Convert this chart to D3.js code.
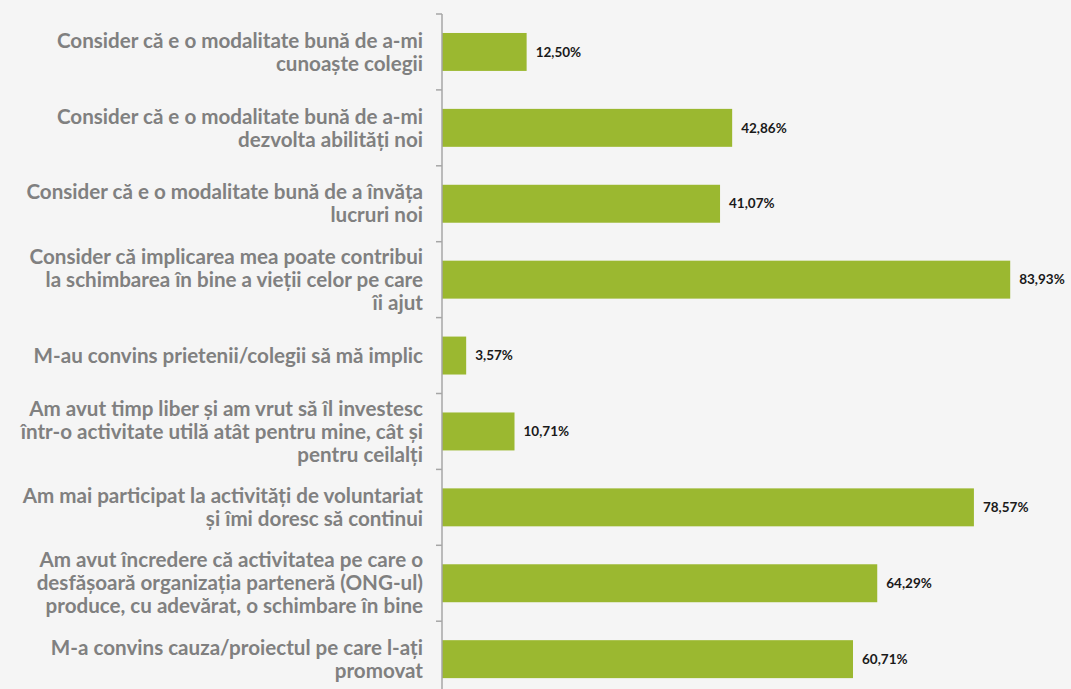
<!DOCTYPE html>
<html><head><meta charset="utf-8">
<script src="https://cdn.jsdelivr.net/npm/d3@7"></script>
<style>body{margin:0;background:#f5f5f5;}svg{display:block;}</style>
</head><body>
<svg id="c" width="1071" height="689"></svg>
<script>
const categories = [
  ["Consider că e o modalitate bună de a-mi","cunoaște colegii"],
  ["Consider că e o modalitate bună de a-mi","dezvolta abilități noi"],
  ["Consider că e o modalitate bună de a învăța","lucruri noi"],
  ["Consider că implicarea mea poate contribui","la schimbarea în bine a vieții celor pe care","îi ajut"],
  ["M-au convins prietenii/colegii să mă implic"],
  ["Am avut timp liber și am vrut să îl investesc","într-o activitate utilă atât pentru mine, cât și","pentru ceilalți"],
  ["Am mai participat la activități de voluntariat","și îmi doresc să continui"],
  ["Am avut încredere că activitatea pe care o","desfășoară organizația parteneră (ONG-ul)","produce, cu adevărat, o schimbare în bine"],
  ["M-a convins cauza/proiectul pe care l-ați","promovat"]
];
const values = [12.50, 42.86, 41.07, 83.93, 3.57, 10.71, 78.57, 64.29, 60.71];
const valueLabels = ["12,50%","42,86%","41,07%","83,93%","3,57%","10,71%","78,57%","64,29%","60,71%"];

const svg = d3.select("#c");
const x0 = 442, plotTop = 14, step = 75.9;
const ids = categories.map((d,i)=>i);
const y = d3.scaleBand().domain(ids).range([plotTop, plotTop + step*ids.length]).paddingInner(0.5).paddingOuter(0.25);
const x = d3.scaleLinear().domain([0,100]).range([x0, x0 + 677]);

svg.append("g").selectAll("rect").data(values).join("rect")
  .attr("x", x(0)).attr("y",(d,i)=>y(i)).attr("width",d=>x(d)-x(0)).attr("height",y.bandwidth())
  .attr("fill","#9bb830");

svg.append("g").selectAll("text").data(values).join("text")
  .attr("x",d=>x(d)+9).attr("y",(d,i)=>y(i)+y.bandwidth()/2).attr("dy","0.35em")
  .attr("font-family","Lato, 'Noto Sans', sans-serif").attr("font-weight","bold").attr("font-size",13.5)
  .attr("fill","#1a1a1a").text((d,i)=>valueLabels[i]);

const g = svg.append("g");
g.append("line").attr("x1",x0).attr("x2",x0).attr("y1",plotTop).attr("y2",plotTop+step*ids.length)
  .attr("stroke","#a6a6a6").attr("stroke-width",1.5);
const bounds = d3.range(ids.length+1).map(i=>plotTop+step*i);
g.selectAll("line.t").data(bounds).join("line").attr("class","t")
  .attr("x1",x0-6).attr("x2",x0).attr("y1",d=>d).attr("y2",d=>d)
  .attr("stroke","#a6a6a6").attr("stroke-width",1.5);

const lh = 23;
const lab = svg.append("g").selectAll("text").data(categories).join("text")
  .attr("text-anchor","end")
  .attr("font-family","Lato, 'Noto Sans', sans-serif").attr("font-weight","bold").attr("font-size",20.6)
  .attr("fill","#808080");
lab.each(function(lines,i){
  const cy = y(i)+y.bandwidth()/2;
  const start = cy - (lines.length-1)*lh/2;
  d3.select(this).selectAll("tspan").data(lines).join("tspan")
    .attr("x",423).attr("y",(d,j)=>start+j*lh).attr("dy","0.35em").text(d=>d);
});
</script>
</body></html>
